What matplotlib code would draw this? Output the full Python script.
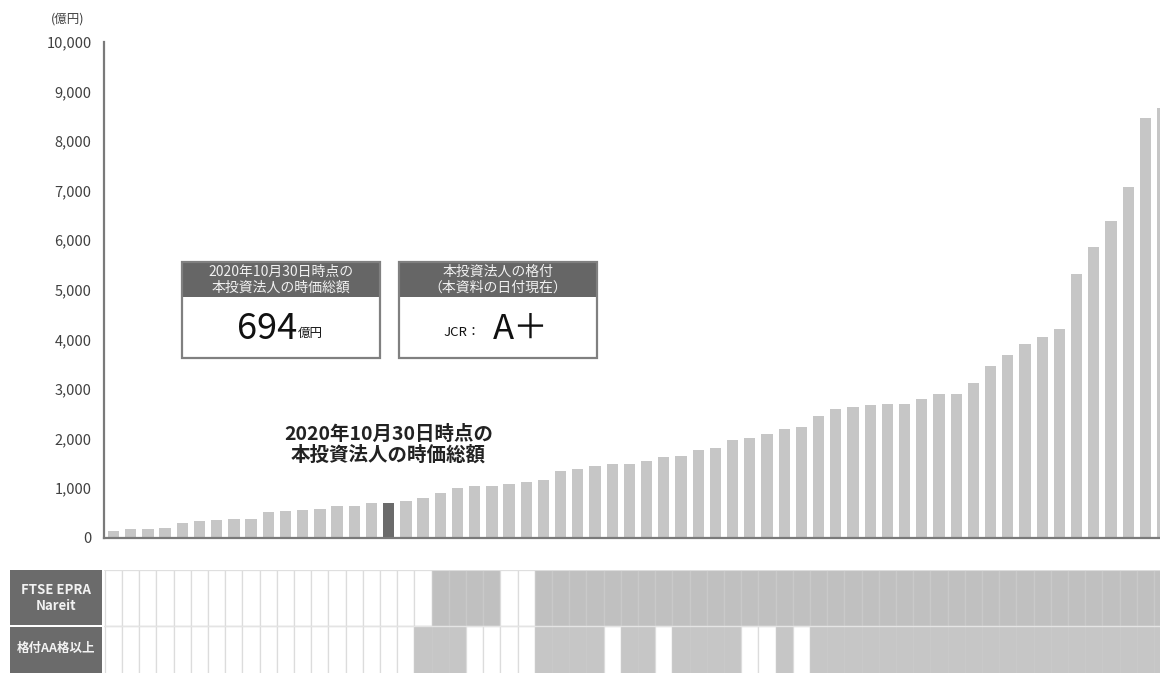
import matplotlib
matplotlib.use("Agg")
import matplotlib.pyplot as plt
from matplotlib.patches import Rectangle
import numpy as np

plt.rcParams['font.family'] = ['Noto Sans CJK JP', 'DejaVu Sans']

# ---- data ----
values = [140, 170, 170, 200, 290, 325, 350, 380, 380, 505,
          535, 565, 585, 645, 645, 690, 694, 740, 800, 900,
          1000, 1030, 1045, 1075, 1130, 1165, 1340, 1385, 1440, 1485,
          1485, 1540, 1620, 1640, 1775, 1800, 1975, 2010, 2090, 2185,
          2230, 2450, 2585, 2630, 2665, 2695, 2695, 2790, 2900, 2900,
          3115, 3465, 3675, 3910, 4045, 4210, 5310, 5860, 6380, 7070,
          8470, 8670]
highlight_index = 16
ftse_flags = [0] * 19 + [1] * 4 + [0] * 2 + [1] * 37
aa_flags = ([0] * 18 + [1] * 3 + [0] * 4 + [1] * 4 + [0] + [1] * 2 + [0]
            + [1] * 4 + [0] * 2 + [1] + [0] + [1] * 21)
yticks = [0, 1000, 2000, 3000, 4000, 5000, 6000, 7000, 8000, 9000, 10000]
row_labels = ["FTSE EPRA\nNareit", "格付AA格以上"]
unit_label = "(億円)"
annot_text = "2020年10月30日時点の\n本投資法人の時価総額"
box1_header = "2020年10月30日時点の\n本投資法人の時価総額"
box1_value = "694"
box1_unit = "億円"
box2_header = "本投資法人の格付\n（本資料の日付現在）"
box2_prefix = "JCR："
box2_value = "A＋"

W, H = 1160, 673
fig = plt.figure(figsize=(W / 100, H / 100), dpi=100)


def px_axes(x0, y0, x1, y1):
    return fig.add_axes([x0 / W, (H - y1) / H, (x1 - x0) / W, (y1 - y0) / H])


x = np.arange(len(values))
xlim = (-0.55, 60.85)

# ---- main bar chart ----
ax = px_axes(104, 42, 1160, 537.5)
colors = ['#6b6b6b' if i == highlight_index else '#c6c6c6' for i in x]
ax.bar(x, values, width=0.66, color=colors, zorder=2)
ax.set_xlim(*xlim)
ax.set_ylim(0, 10000)
ax.set_yticks(yticks)
ax.set_yticklabels([f"{v:,}" for v in yticks], fontsize=10.5, color='#404040')
ax.tick_params(axis='y', length=0, pad=9)
ax.set_xticks([])
for s in ['top', 'right']:
    ax.spines[s].set_visible(False)
for s in ['left', 'bottom']:
    ax.spines[s].set_color('#7a7a7a')
    ax.spines[s].set_linewidth(1.6)
ax.spines['bottom'].set_zorder(3)

fig.text(68 / W, 1 - 19 / H, unit_label, fontsize=9, color='#404040',
         ha='center', va='center')

ax.text(16.0, 1880, annot_text, ha='center', va='center', fontsize=14,
        fontweight='bold', color='#222222', linespacing=1.08)

# ---- info boxes ----
def info_box(x0, x1, header, draw_body):
    bax = px_axes(x0, 262, x1, 358)
    bax.set_xlim(0, 1)
    bax.set_ylim(0, 1)
    bax.axis('off')
    bax.add_patch(Rectangle((0, 0.635), 1, 0.365, facecolor='#666666',
                            edgecolor='none'))
    bax.add_patch(Rectangle((0, 0), 1, 1, facecolor='none',
                            edgecolor='#808080', linewidth=1.6, clip_on=False))
    bax.text(0.5, 0.815, header, ha='center', va='center', fontsize=10,
             color='#f0f0f0', linespacing=1.1)
    draw_body(bax)


def body1(bax):
    bax.text(0.58, 0.30, box1_value, ha='right', va='center',
             fontsize=26, color='#111111')
    bax.text(0.585, 0.255, box1_unit, ha='left', va='center', fontsize=9,
             color='#111111')


def body2(bax):
    bax.text(0.41, 0.27, box2_prefix, ha='right', va='center', fontsize=9.5,
             color='#111111')
    bax.text(0.475, 0.30, box2_value, ha='left', va='center', fontsize=25,
             color='#111111')


info_box(182, 380, box1_header, body1)
info_box(399, 597, box2_header, body2)

# ---- table ----
tax = px_axes(104, 570, 1160, 673)
tax.set_xlim(*xlim)
tax.set_ylim(0.16, 2)
tax.axis('off')
for row_y, flags, gray in [(1, ftse_flags, '#c0c0c0'), (0, aa_flags, '#c6c6c6')]:
    fcol = [gray if f else '#ffffff' for f in flags]
    ecol = ['#c9c9c9' if f else '#dcdcdc' for f in flags]
    tax.bar(x, [1] * len(flags), bottom=row_y, width=1.0, color=fcol,
            edgecolor=ecol, linewidth=0.9)
tax.axhline(2, color='#e0e0e0', linewidth=1.2)
tax.axhline(1, color='#e4e4e4', linewidth=1.0)

hax = px_axes(10, 570, 102, 673)
hax.set_xlim(0, 1)
hax.set_ylim(0.16, 2)
hax.axis('off')
hax.add_patch(Rectangle((0, 1.01), 1, 0.99, facecolor='#6b6b6b', edgecolor='none'))
hax.add_patch(Rectangle((0, 0), 1, 0.99, facecolor='#6b6b6b', edgecolor='none'))
hax.text(0.5, 1.5, row_labels[0], ha='center', va='center', fontsize=9.5,
         fontweight='bold', color='#f2f2f2', linespacing=1.1)
hax.text(0.5, 0.6, row_labels[1], ha='center', va='center', fontsize=9,
         fontweight='bold', color='#f2f2f2')

fig.savefig("out.png", dpi=100)
